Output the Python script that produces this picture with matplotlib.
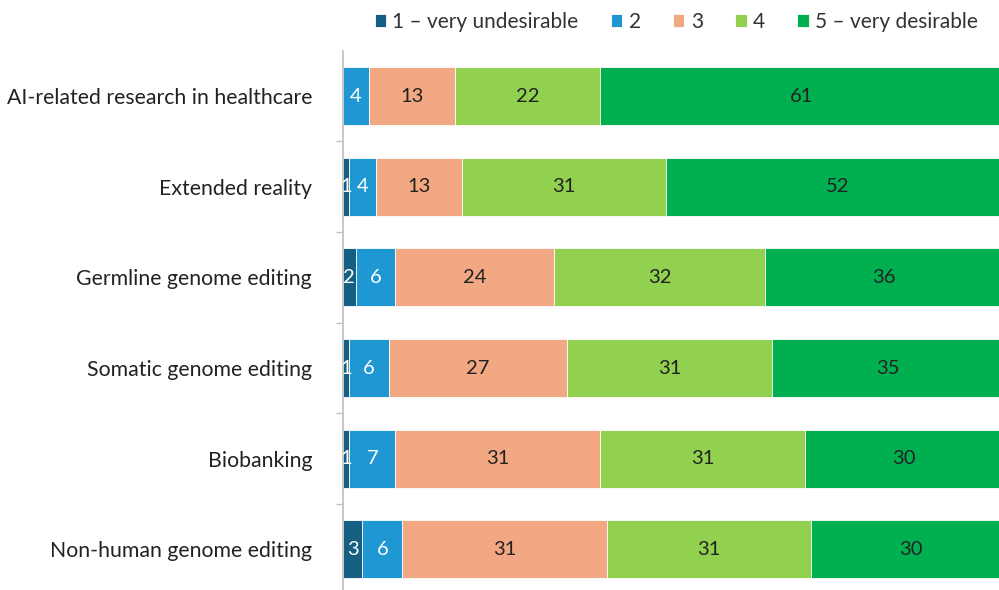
import numpy as np
import matplotlib.pyplot as plt

plt.rcParams['font.family'] = ['Lato', 'DejaVu Sans']

categories = ['AI-related research in healthcare', 'Extended reality',
              'Germline genome editing', 'Somatic genome editing',
              'Biobanking', 'Non-human genome editing']
series_names = ['1 – very undesirable', '2', '3', '4', '5 – very desirable']
v1 = [0, 1, 2, 1, 1, 3]
v2 = [4, 4, 6, 6, 7, 6]
v3 = [13, 13, 24, 27, 31, 31]
v4 = [22, 31, 32, 31, 31, 31]
v5 = [61, 52, 36, 35, 30, 30]

colors = ['#155f82', '#1f97d3', '#f2a983', '#92d050', '#00b050']
text_colors = ['white', 'white', '#222222', '#222222', '#222222']

fig = plt.figure(figsize=(9.99, 5.9), dpi=100)
ax = fig.add_axes([0.343, -0.008, 0.661, 0.922])

y = np.arange(len(categories))
left = np.zeros(len(categories))
for vals, name, c, tc in zip([v1, v2, v3, v4, v5], series_names, colors, text_colors):
    vals = np.array(vals, dtype=float)
    bars = ax.barh(y, vals, left=left, height=0.64, color=c, label=name,
                   edgecolor='white', linewidth=0.6)
    for b, v in zip(bars, vals):
        if v > 0:
            ax.text(b.get_x() + b.get_width() / 2, b.get_y() + b.get_height() / 2,
                    f'{int(v)}', ha='center', va='center', color=tc, fontsize=14.5)
    left += vals

ax.set_xlim(0, 100)
ax.set_ylim(len(categories) - 0.5, -0.5)
ax.set_yticks(y)
ax.set_yticklabels(categories, fontsize=15.3, color='#222222')
ax.set_yticks(np.arange(0.5, len(categories) - 0.5), minor=True)
ax.tick_params(axis='y', which='major', length=0, pad=22)
ax.tick_params(axis='y', which='minor', length=5, color='#bfbfbf', width=1)
ax.set_xticks([])
for s in ['top', 'right', 'bottom']:
    ax.spines[s].set_visible(False)
ax.spines['left'].set_color('#bfbfbf')
ax.spines['left'].set_linewidth(1.2)

handles, labels = ax.get_legend_handles_labels()
fig.legend(handles, labels, loc='center', bbox_to_anchor=(0.677, 0.963), ncol=5,
           frameon=False, fontsize=15, handlelength=0.55, handleheight=0.55,
           handletextpad=0.3, columnspacing=1.55, labelcolor='#333333')

fig.savefig('out.png', dpi=100)
